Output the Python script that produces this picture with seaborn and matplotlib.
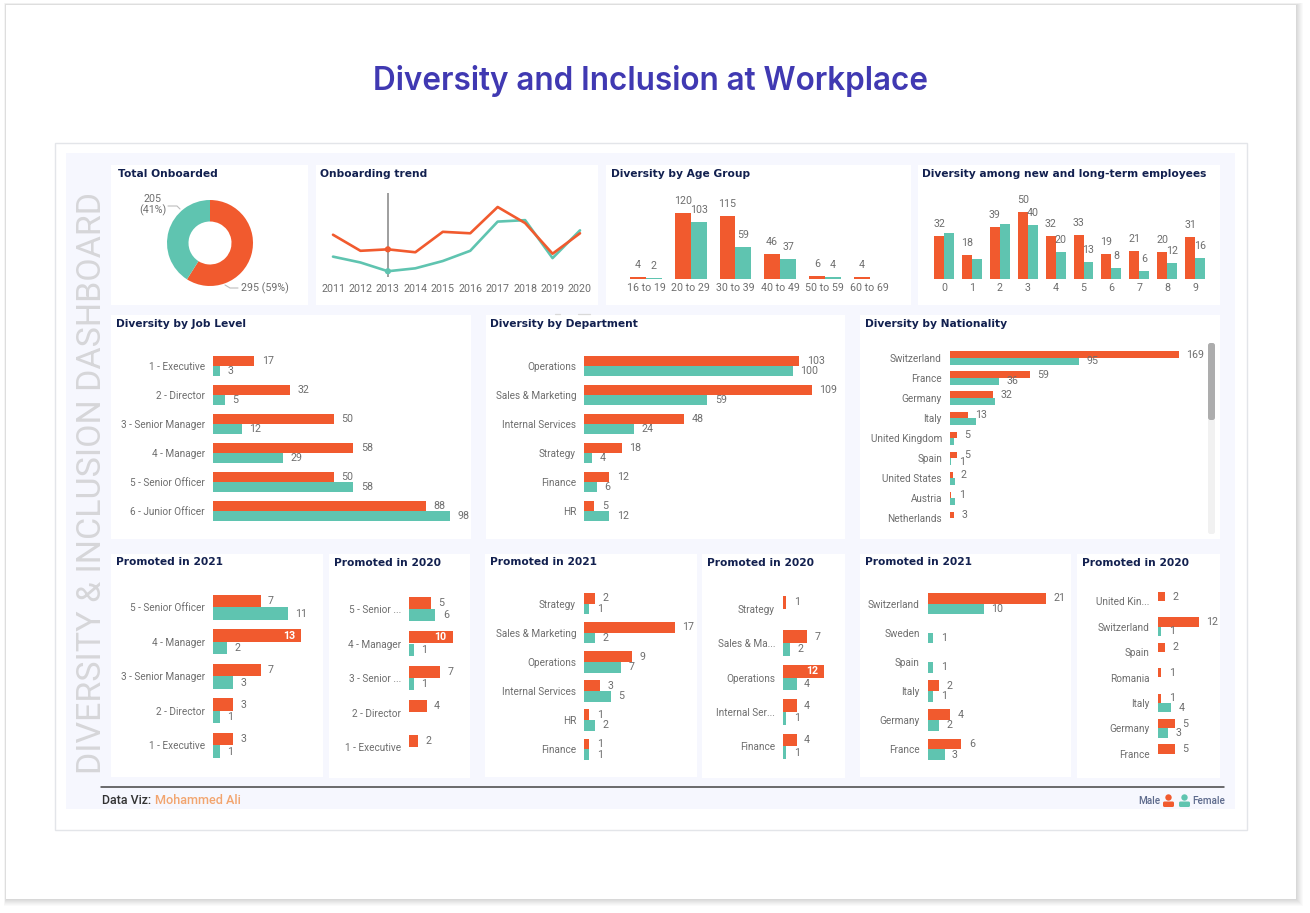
import matplotlib
matplotlib.use("Agg")
import matplotlib.pyplot as plt
from matplotlib.patches import Rectangle, Circle, FancyBboxPatch
import numpy as np
import pandas as pd
import seaborn as sns

MALE = "#F15A2E"
FEMALE = "#5FC4B0"
NAVY = "#12204F"
GREY_TXT = "#6E6E6E"
W, H = 1310, 913
LABEL_PX = 10.6
CAT_PX = 10

# Dashboard figures
totals = [295, 205]
years = [2011, 2012, 2013, 2014, 2015, 2016, 2017, 2018, 2019, 2020]
trend_male = [31, 20, 21, 19, 33, 32, 50, 39, 18, 32]
trend_female = [16, 12, 6, 8, 13, 20, 40, 41, 15, 34]

age_groups = ["16 to 19", "20 to 29", "30 to 39", "40 to 49", "50 to 59", "60 to 69"]
age_male = [4, 120, 115, 46, 6, 4]
age_female = [2, 103, 59, 37, 4, np.nan]

tenure = ["0", "1", "2", "3", "4", "5", "6", "7", "8", "9"]
tenure_male = [32, 18, 39, 50, 32, 33, 19, 21, 20, 31]
tenure_female = [34, 15, 41, 40, 20, 13, 8, 6, 12, 16]
tenure_female_unlabelled = ["0", "1", "2"]

job_levels = ["1 - Executive", "2 - Director", "3 - Senior Manager", "4 - Manager",
              "5 - Senior Officer", "6 - Junior Officer"]
job_male = [17, 32, 50, 58, 50, 88]
job_female = [3, 5, 12, 29, 58, 98]

departments = ["Operations", "Sales & Marketing", "Internal Services", "Strategy", "Finance", "HR"]
dept_male = [103, 109, 48, 18, 12, 5]
dept_female = [100, 59, 24, 4, 6, 12]

nations = ["Switzerland", "France", "Germany", "Italy", "United Kingdom", "Spain",
           "United States", "Austria", "Netherlands"]
nation_male = [169, 59, 32, 13, 5, 5, 2, 1, 3]
nation_female = [95, 36, 33, 19, 3, 1, 4, 4, np.nan]
nation_female_unlabelled = ["Germany", "Italy", "United Kingdom", "United States", "Austria"]

job21 = ["5 - Senior Officer", "4 - Manager", "3 - Senior Manager", "2 - Director", "1 - Executive"]
job21_male = [7, 13, 7, 3, 3]
job21_female = [11, 2, 3, 1, 1]

job20 = ["5 - Senior ...", "4 - Manager", "3 - Senior ...", "2 - Director", "1 - Executive"]
job20_male = [5, 10, 7, 4, 2]
job20_female = [6, 1, 1, np.nan, np.nan]

dept21 = ["Strategy", "Sales & Marketing", "Operations", "Internal Services", "HR", "Finance"]
dept21_male = [2, 17, 9, 3, 1, 1]
dept21_female = [1, 2, 7, 5, 2, 1]

dept20 = ["Strategy", "Sales & Ma...", "Operations", "Internal Ser...", "Finance"]
dept20_male = [1, 7, 12, 4, 4]
dept20_female = [np.nan, 2, 4, 1, 1]

nat21 = ["Switzerland", "Sweden", "Spain", "Italy", "Germany", "France"]
nat21_male = [21, np.nan, np.nan, 2, 4, 6]
nat21_female = [10, 1, 1, 1, 2, 3]

nat20 = ["United Kin...", "Switzerland", "Spain", "Romania", "Italy", "Germany", "France"]
nat20_male = [2, 12, 2, 1, 1, 5, 5]
nat20_female = [np.nan, 1, np.nan, np.nan, 4, 3, np.nan]

sns.set_theme(style="white")
plt.rcParams["font.family"] = ["Roboto", "DejaVu Sans"]

fig = plt.figure(figsize=(W / 100, H / 100), dpi=100, facecolor="white")
px = 0.72  # points per pixel at this dpi

# Full-figure canvas measured in pixels, used for the page furniture
bg = fig.add_axes([0, 0, 1, 1], zorder=-5)
bg.set_xlim(0, W)
bg.set_ylim(H, 0)
bg.axis("off")


def rect(x0, y0, x1, y1, color, **kw):
    bg.add_patch(Rectangle((x0, y0), x1 - x0, y1 - y0, facecolor=color, edgecolor=kw.pop("edge", "none"),
                           linewidth=kw.pop("lw", 0), **kw))


# Card with a soft shadow falling to the lower right
for grow, shade in [(7, "#FAFAFA"), (6, "#F5F5F5"), (5, "#F0F0F0"), (4, "#EAEAEA"),
                    (3, "#E4E4E4"), (2, "#DEDEDE"), (1, "#D8D8D8")]:
    rect(6 - grow * 0.3, 5 - grow * 0.3, 1296 + grow, 899 + grow, shade)
rect(6, 5, 1296, 899, "white")

bg.text(650.5, 81, "Diversity and Inclusion at Workplace", color="#4039B2", fontsize=31.5 * px,
        family="Inter", weight="semibold", ha="center", va="center")

rect(54.5, 143.5, 1247, 830, "white", edge="#E3E5E9", lw=1)
rect(66, 153, 1235, 809, "#F6F7FE")

bg.text(92, 483, "DIVERSITY & INCLUSION DASHBOARD", rotation=90, color="#D6D6D9", fontsize=34 * px,
        family="Roboto", ha="center", va="center")


def panel(x0, y0, x1, y1, title, tx, ty):
    rect(x0, y0, x1, y1, "white")
    bg.text(tx, ty, title, color=NAVY, fontsize=10.6 * px, family="DejaVu Sans", weight="bold",
            ha="left", va="center")


def long_form(cats, male, female):
    return pd.DataFrame({
        "cat": list(cats) * 2,
        "sex": ["Male"] * len(cats) + ["Female"] * len(cats),
        "val": list(male) + list(female),
    })


def hbars(x_start, x_end, y_first, step, scale, cats, male, female, width=0.72,
          inside=(), unlabelled=()):
    """Horizontal paired bars; the axes is sized so one unit spans `scale` pixels."""
    n = len(cats)
    top = y_first - step / 2
    ax = fig.add_axes([x_start / W, 1 - (top + n * step) / H, (x_end - x_start) / W, n * step / H])
    ax.patch.set_alpha(0)
    sns.barplot(data=long_form(cats, male, female), y="cat", x="val", hue="sex", order=cats,
                hue_order=["Male", "Female"], palette=[MALE, FEMALE], width=width, gap=0,
                saturation=1, linewidth=0, legend=False, ax=ax, errorbar=None)
    ax.set_xlim(0, (x_end - x_start) / scale)
    ax.set_ylim(n - 0.5, -0.5)
    ax.set(xlabel=None, ylabel=None, xticks=[])
    ax.tick_params(axis="y", length=0, pad=8 * px, labelsize=CAT_PX * px, labelcolor=GREY_TXT)
    sns.despine(ax=ax, left=True, bottom=True)
    for c, cont in enumerate(ax.containers):
        for bar in cont:
            v = bar.get_width()
            if np.isnan(v) or v == 0:
                continue
            cy = bar.get_y() + bar.get_height() / 2
            cat = cats[int(round(cy))]
            if c == 1 and cat in unlabelled:
                continue
            if c == 0 and v in inside:
                ax.annotate(f"{v:.0f}", (v, cy), xytext=(-6 * px, 0), textcoords="offset points",
                            ha="right", va="center", color="white", weight="bold", fontsize=LABEL_PX * px)
            else:
                ax.annotate(f"{v:.0f}", (v, cy), xytext=(7.5 * px, 0), textcoords="offset points",
                            ha="left", va="center", color=GREY_TXT, fontsize=LABEL_PX * px)
    return ax


def vbars(x_first, step, scale, cats, male, female, base=279, top=190, width=0.71, unlabelled=()):
    """Vertical paired bars; one unit spans `scale` pixels."""
    n = len(cats)
    left = x_first - step / 2
    ax = fig.add_axes([left / W, 1 - base / H, n * step / W, (base - top) / H])
    ax.patch.set_alpha(0)
    sns.barplot(data=long_form(cats, male, female), x="cat", y="val", hue="sex", order=cats,
                hue_order=["Male", "Female"], palette=[MALE, FEMALE], width=width, gap=0,
                saturation=1, linewidth=0, legend=False, ax=ax, errorbar=None)
    ax.set_xlim(-0.5, n - 0.5)
    ax.set_ylim(0, (base - top) / scale)
    ax.set(xlabel=None, ylabel=None, yticks=[])
    ax.tick_params(axis="x", length=0, pad=4 * px, labelsize=LABEL_PX * px, labelcolor=GREY_TXT)
    sns.despine(ax=ax, left=True, bottom=True)
    for c, cont in enumerate(ax.containers):
        for bar in cont:
            v = bar.get_height()
            if np.isnan(v) or v == 0:
                continue
            cx = bar.get_x() + bar.get_width() / 2
            if c == 1 and cats[int(round(cx))] in unlabelled:
                continue
            ax.annotate(f"{v:.0f}", (cx, v), xytext=(0, 7 * px), textcoords="offset points",
                        ha="center", va="bottom", color=GREY_TXT, fontsize=LABEL_PX * px)
    return ax


# Top row
panel(111, 165, 308, 305, "Total Onboarded", 118, 174)
panel(316, 165, 598, 305, "Onboarding trend", 320, 174)
panel(606, 165, 911, 305, "Diversity by Age Group", 611, 174)
panel(918, 165, 1220, 305, "Diversity among new and long-term employees", 922, 174)

r_px = 43
cx_px, cy_px = 210, 243
ax_d = fig.add_axes([(cx_px - r_px) / W, 1 - (cy_px + r_px) / H, 2 * r_px / W, 2 * r_px / H])
ax_d.pie(totals, colors=[MALE, FEMALE], startangle=90, counterclock=False, radius=1,
         wedgeprops=dict(width=0.5, linewidth=0))
ax_d.set(xlim=(-1, 1), ylim=(-1, 1), aspect="equal")
bg.text(153, 205, f"{totals[1]}\n(41%)", color=GREY_TXT, fontsize=LABEL_PX * px, ha="center", va="center",
        linespacing=1.05)
bg.text(241, 288, f"{totals[0]} (59%)", color=GREY_TXT, fontsize=LABEL_PX * px, ha="left", va="center")
bg.plot([168, 177, 180], [206, 206, 209], color="#BDBDBD", lw=0.8)
bg.plot([225, 230, 238], [285, 288, 288], color="#BDBDBD", lw=0.8)

trend_top, trend_base, trend_scale = 190, 280, 1.46
ax_t = fig.add_axes([333 / W, 1 - trend_base / H, 247 / W, (trend_base - trend_top) / H])
ax_t.patch.set_alpha(0)
trend = pd.DataFrame({"year": years * 2, "sex": ["Male"] * 10 + ["Female"] * 10,
                      "val": trend_male + trend_female})
ax_t.vlines(years[2], 2, 59.6, color="#8E8E8E", lw=1.2, clip_on=False)
sns.lineplot(data=trend, x="year", y="val", hue="sex", hue_order=["Female", "Male"],
             palette=[FEMALE, MALE], linewidth=1.9, legend=False, ax=ax_t, errorbar=None)
ax_t.scatter([years[2]] * 2, [trend_male[2], trend_female[2]], c=[MALE, FEMALE], s=20, linewidth=0, zorder=5)
ax_t.set_xlim(years[0], years[-1])
ax_t.set_ylim(0, (trend_base - trend_top) / trend_scale)
ax_t.set(xlabel=None, ylabel=None, yticks=[], xticks=years)
ax_t.tick_params(axis="x", length=0, pad=4.5 * px, labelsize=LABEL_PX * px, labelcolor=GREY_TXT)
sns.despine(ax=ax_t, left=True, bottom=True)
for line in ax_t.get_lines():
    line.set_clip_on(False)

vbars(646, 44.7, 0.55, age_groups, age_male, age_female)
vbars(944, 27.9, 1.34, tenure, tenure_male, tenure_female, unlabelled=tenure_female_unlabelled)

# Middle row
panel(111, 315, 471, 539, "Diversity by Job Level", 116, 324)
panel(486, 315, 845, 539, "Diversity by Department", 490, 324)
panel(860, 315, 1220, 539, "Diversity by Nationality", 865, 324)
hbars(213, 465, 366, 29, 2.42, job_levels, job_male, job_female, width=0.7)
hbars(584, 840, 366, 29, 2.09, departments, dept_male, dept_female, width=0.7)
hbars(950, 1205, 358, 20.05, 1.355, nations, nation_male, nation_female, width=0.66,
      unlabelled=nation_female_unlabelled)
for y_end, shade in [(534, "#F1F1F1"), (420, "#ADADAD")]:
    bg.add_patch(FancyBboxPatch((1208, 343), 7, y_end - 343, boxstyle="round,pad=0,rounding_size=2.5",
                                facecolor=shade, linewidth=0))

# Faint focus-mode glyphs above the department card
bg.plot([555, 560], [314, 314], color="#D9D9D9", lw=0.9)
bg.plot([578, 590], [314, 314], color="#D9D9D9", lw=0.9)

# Bottom row
panel(111, 554, 323, 777, "Promoted in 2021", 116, 562)
panel(329, 554, 470, 778, "Promoted in 2020", 334, 563)
panel(485, 554, 697, 777, "Promoted in 2021", 490, 562)
panel(702, 554, 845, 778, "Promoted in 2020", 707, 563)
panel(860, 554, 1071, 777, "Promoted in 2021", 865, 562)
panel(1077, 554, 1220, 778, "Promoted in 2020", 1082, 563)
hbars(213, 320, 607.3, 34.5, 6.8, job21, job21_male, job21_female, inside=(13,))
hbars(409.3, 468, 609, 34.5, 4.33, job20, job20_male, job20_female, inside=(10,))
hbars(584, 694, 603.7, 29.1, 5.35, dept21, dept21_male, dept21_female, width=0.735)
hbars(783, 843, 608.7, 34.4, 3.42, dept20, dept20_male, dept20_female, width=0.735, inside=(12,))
hbars(927.7, 1068, 603.7, 29.1, 5.62, nat21, nat21_male, nat21_female, width=0.735)
hbars(1157.7, 1218, 601.3, 25.4, 3.42, nat20, nat20_male, nat20_female, width=0.735)

# Footer
bg.plot([101, 1224], [787, 787], color="#444444", lw=1.1)
bg.text(102, 801, "Data Viz:", color="#333333", fontsize=12.4 * px, weight="medium", va="center")
bg.text(155, 801, "Mohammed Ali", color="#F2A56F", fontsize=12.6 * px, weight="medium", va="center")
bg.text(1160, 801, "Male", color="#5D6A8C", fontsize=10 * px, weight="medium", ha="right", va="center")
bg.text(1192, 801, "Female", color="#5D6A8C", fontsize=10 * px, weight="medium", ha="left", va="center")
for icon_x, colour in [(1168.5, MALE), (1184.5, FEMALE)]:
    bg.add_patch(Circle((icon_x, 797.5), 3.2, facecolor=colour, linewidth=0))
    bg.add_patch(FancyBboxPatch((icon_x - 5.5, 801.5), 11, 5.5, boxstyle="round,pad=0,rounding_size=1.5",
                                facecolor=colour, linewidth=0))

fig.savefig("out.png", dpi=100, facecolor=fig.get_facecolor())
